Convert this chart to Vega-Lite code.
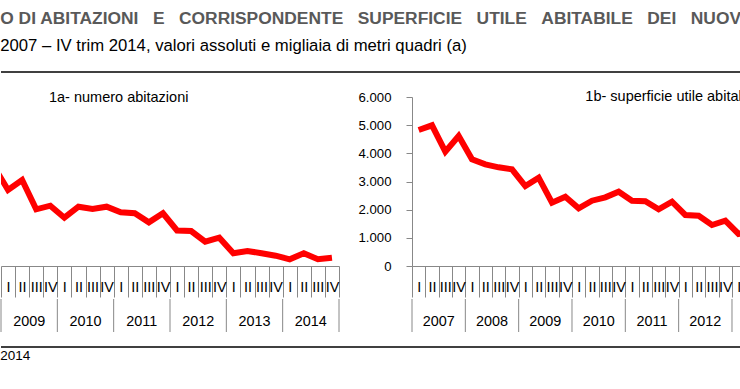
{
  "$schema": "https://vega.github.io/schema/vega-lite/v6.json",
  "background": "white",
  "padding": {"top": 10, "left": 0, "right": 0, "bottom": 0},
  "config": {"view": {"stroke": null}, "axis": {"grid": false}},
  "datasets": {
    "anni_a": [{"anno": 2009}, {"anno": 2010}, {"anno": 2011}, {"anno": 2012}, {"anno": 2013}, {"anno": 2014}, {"anno": 2015}],
    "anni_b": [{"anno": 2007}, {"anno": 2008}, {"anno": 2009}, {"anno": 2010}, {"anno": 2011}, {"anno": 2012}, {"anno": 2013}]
  },
  "title": {
    "text": "O DI ABITAZIONI \u00a0\u00a0E \u00a0\u00a0CORRISPONDENTE \u00a0\u00a0SUPERFICIE \u00a0\u00a0UTILE \u00a0\u00a0ABITABILE \u00a0\u00a0DEI \u00a0\u00a0NUOV",
    "subtitle": "2007 – IV trim 2014, valori assoluti e migliaia di metri quadri (a)",
    "anchor": "start",
    "font": "Liberation Sans",
    "fontSize": 17.4,
    "fontWeight": "bold",
    "color": "#595959",
    "subtitleFont": "Liberation Sans",
    "subtitleFontSize": 16.7,
    "subtitleColor": "black",
    "subtitlePadding": 10,
    "offset": 17
  },
  "spacing": 13,
  "vconcat": [
    {
      "width": 740,
      "height": 4,
      "data": {"values": [{}]},
      "mark": {"type": "rule", "color": "black", "strokeWidth": 1.5},
      "encoding": {"y": {"datum": 1, "scale": {"domain": [0, 1]}, "axis": null}}
    },
    {
      "spacing": 10,
      "hconcat": [
        {
          "spacing": 0,
          "vconcat": [
            {
              "width": 338,
              "height": 169,
              "data": {"values": [
                {"periodo": 2008.875, "valore": 45290},
                {"periodo": 2009.125, "valore": 36980},
                {"periodo": 2009.375, "valore": 40530},
                {"periodo": 2009.625, "valore": 30130},
                {"periodo": 2009.875, "valore": 31410},
                {"periodo": 2010.125, "valore": 27150},
                {"periodo": 2010.375, "valore": 31050},
                {"periodo": 2010.625, "valore": 30240},
                {"periodo": 2010.875, "valore": 31050},
                {"periodo": 2011.125, "valore": 29060},
                {"periodo": 2011.375, "valore": 28710},
                {"periodo": 2011.625, "valore": 25510},
                {"periodo": 2011.875, "valore": 28710},
                {"periodo": 2012.125, "valore": 22600},
                {"periodo": 2012.375, "valore": 22430},
                {"periodo": 2012.625, "valore": 18630},
                {"periodo": 2012.875, "valore": 20050},
                {"periodo": 2013.125, "valore": 14510},
                {"periodo": 2013.375, "valore": 15330},
                {"periodo": 2013.625, "valore": 14510},
                {"periodo": 2013.875, "valore": 13660},
                {"periodo": 2014.125, "valore": 12380},
                {"periodo": 2014.375, "valore": 14510},
                {"periodo": 2014.625, "valore": 12380},
                {"periodo": 2014.875, "valore": 12950}
              ]},
              "layer": [
                {
                  "mark": {"type": "line", "color": "#ff0000", "strokeWidth": 6, "clip": true},
                  "encoding": {
                    "x": {"field": "periodo", "type": "quantitative",
                      "scale": {"domain": [2009, 2015], "nice": false, "zero": false},
                      "axis": {"orient": "bottom", "title": null, "tickCount": 200,
                        "values": [2009,2009.25,2009.5,2009.75,2010,2010.25,2010.5,2010.75,2011,2011.25,2011.5,2011.75,2012,2012.25,2012.5,2012.75,2013,2013.25,2013.5,2013.75,2014,2014.25,2014.5,2014.75,2015],
                        "domainColor": "#888", "domainWidth": 1, "tickColor": "#888", "tickWidth": 1, "tickSize": 31,
                        "labelExpr": "datum.value >= 2015 ? '' : ['I','II','III','IV'][round((datum.value - floor(datum.value)) * 4)]",
                        "labelOffset": 7.04, "labelPadding": -16.2, "labelFont": "Liberation Sans", "labelFontSize": 14.4, "labelColor": "black",
                        "labelOverlap": false, "labelFlush": false, "labelBound": false}},
                    "y": {"field": "valore", "type": "quantitative", "scale": {"domain": [10000, 70000], "nice": false, "zero": false}, "axis": null}
                  }
                },
                {
                  "data": {"values": [{"titolo": "1a- numero abitazioni"}]},
                  "mark": {"type": "text", "align": "left", "baseline": "middle", "font": "Liberation Sans", "fontSize": 14.5, "color": "black"},
                  "encoding": {
                    "x": {"datum": 2009.852},
                    "y": {"datum": 69540, "axis": null},
                    "text": {"field": "titolo"}
                  }
                }
              ]
            },
            {
              "width": 338,
              "height": 33,
              "data": {"name": "anni_a"},
              "layer": [
                {
                  "mark": {"type": "rule", "color": "#888", "strokeWidth": 1},
                  "encoding": {
                    "x": {"field": "anno", "type": "quantitative", "scale": {"domain": [2009, 2015], "nice": false, "zero": false}, "axis": null},
                    "y": {"datum": 0, "scale": {"domain": [0, 1]}, "axis": null},
                    "y2": {"datum": 1}
                  }
                },
                {
                  "transform": [{"filter": "datum.anno < 2015"}],
                  "mark": {"type": "text", "align": "center", "baseline": "middle", "dx": 28.17, "font": "Liberation Sans", "fontSize": 14.4, "color": "black"},
                  "encoding": {
                    "x": {"field": "anno", "type": "quantitative"},
                    "y": {"datum": 0.3},
                    "text": {"field": "anno", "type": "nominal"}
                  }
                }
              ]
            }
          ]
        },
        {
          "spacing": 0,
          "vconcat": [
            {
              "width": 329,
              "height": 169,
              "data": {"values": [
                {"periodo": 2007.125, "valore": 4828},
                {"periodo": 2007.375, "valore": 4995},
                {"periodo": 2007.625, "valore": 4058},
                {"periodo": 2007.875, "valore": 4615},
                {"periodo": 2008.125, "valore": 3788},
                {"periodo": 2008.375, "valore": 3610},
                {"periodo": 2008.625, "valore": 3504},
                {"periodo": 2008.875, "valore": 3433},
                {"periodo": 2009.125, "valore": 2840},
                {"periodo": 2009.375, "valore": 3135},
                {"periodo": 2009.625, "valore": 2247},
                {"periodo": 2009.875, "valore": 2460},
                {"periodo": 2010.125, "valore": 2048},
                {"periodo": 2010.375, "valore": 2318},
                {"periodo": 2010.625, "valore": 2439},
                {"periodo": 2010.875, "valore": 2638},
                {"periodo": 2011.125, "valore": 2318},
                {"periodo": 2011.375, "valore": 2297},
                {"periodo": 2011.625, "valore": 2013},
                {"periodo": 2011.875, "valore": 2283},
                {"periodo": 2012.125, "valore": 1811},
                {"periodo": 2012.375, "valore": 1786},
                {"periodo": 2012.625, "valore": 1456},
                {"periodo": 2012.875, "valore": 1608},
                {"periodo": 2013.125, "valore": 1136},
                {"periodo": 2013.375, "valore": 1190}
              ]},
              "layer": [
                {
                  "mark": {"type": "line", "color": "#ff0000", "strokeWidth": 6, "clip": true},
                  "encoding": {
                    "x": {"field": "periodo", "type": "quantitative",
                      "scale": {"domain": [2007, 2013.169], "nice": false, "zero": false},
                      "axis": {"orient": "bottom", "title": null, "tickCount": 200,
                        "values": [2007,2007.25,2007.5,2007.75,2008,2008.25,2008.5,2008.75,2009,2009.25,2009.5,2009.75,2010,2010.25,2010.5,2010.75,2011,2011.25,2011.5,2011.75,2012,2012.25,2012.5,2012.75,2013],
                        "domainColor": "#888", "domainWidth": 1, "tickColor": "#888", "tickWidth": 1, "tickSize": 31,
                        "labelExpr": "['I','II','III','IV'][round((datum.value - floor(datum.value)) * 4)]",
                        "labelOffset": 6.67, "labelPadding": -16.2, "labelFont": "Liberation Sans", "labelFontSize": 14.4, "labelColor": "black",
                        "labelOverlap": false, "labelFlush": false, "labelBound": false}},
                    "y": {"field": "valore", "type": "quantitative", "scale": {"domain": [0, 6000], "nice": false, "zero": false},
                      "axis": {"title": null, "tickCount": 50, "values": [0,1000,2000,3000,4000,5000,6000],
                        "labelExpr": "replace(format(datum.value, ','), ',', '.')",
                        "domainColor": "#888", "domainWidth": 1, "tickColor": "#888", "tickWidth": 1, "tickSize": 6,
                        "labelOverlap": false,
                        "labelPadding": 15, "labelFont": "Liberation Sans", "labelFontSize": 13.2, "labelColor": "black"}}
                  }
                },
                {
                  "data": {"values": [{"titolo": "1b- superficie utile abitab"}]},
                  "mark": {"type": "text", "align": "left", "baseline": "middle", "font": "Liberation Sans", "fontSize": 14.5, "color": "black"},
                  "encoding": {
                    "x": {"datum": 2010.25},
                    "y": {"datum": 5990},
                    "text": {"field": "titolo"}
                  }
                }
              ]
            },
            {
              "width": 329,
              "height": 33,
              "data": {"name": "anni_b"},
              "layer": [
                {
                  "mark": {"type": "rule", "color": "#888", "strokeWidth": 1},
                  "encoding": {
                    "x": {"field": "anno", "type": "quantitative", "scale": {"domain": [2007, 2013.169], "nice": false, "zero": false}, "axis": null},
                    "y": {"datum": 0, "scale": {"domain": [0, 1]}, "axis": null},
                    "y2": {"datum": 1}
                  }
                },
                {
                  "transform": [{"filter": "datum.anno < 2013"}],
                  "mark": {"type": "text", "align": "center", "baseline": "middle", "dx": 26.67, "font": "Liberation Sans", "fontSize": 14.4, "color": "black"},
                  "encoding": {
                    "x": {"field": "anno", "type": "quantitative"},
                    "y": {"datum": 0.3},
                    "text": {"field": "anno", "type": "nominal"}
                  }
                }
              ]
            }
          ]
        }
      ]
    },
    {
      "width": 740,
      "height": 1,
      "data": {"values": [{}]},
      "mark": {"type": "rule", "color": "black", "strokeWidth": 1.5},
      "encoding": {"y": {"datum": 1, "scale": {"domain": [0, 1]}, "axis": null}},
      "title": {"text": "2014", "orient": "bottom", "anchor": "start", "font": "Liberation Sans", "fontSize": 13.5, "fontWeight": "normal", "color": "black", "offset": 1}
    }
  ]
}
